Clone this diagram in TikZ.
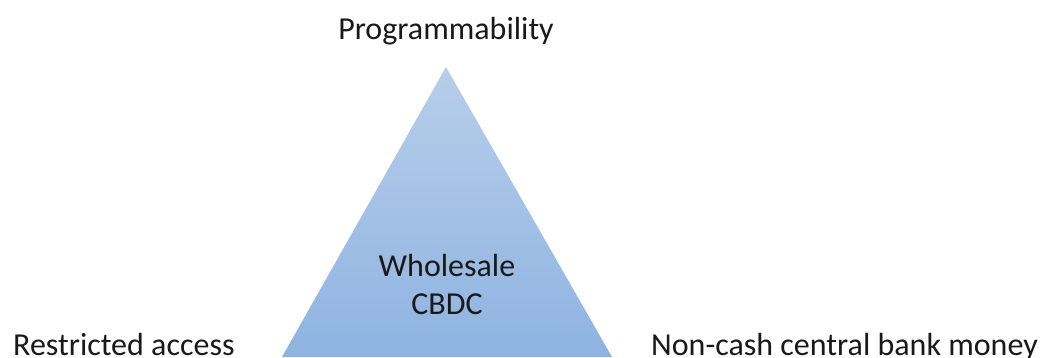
\documentclass[tikz,border=0pt]{standalone}
\usepackage{fontspec}
\setmainfont{Carlito}
\definecolor{tritop}{RGB}{184,206,234}
\definecolor{tribot}{RGB}{142,179,225}
\definecolor{labeltext}{RGB}{25,25,25}
\begin{document}
\begin{tikzpicture}[x=1pt,y=-1pt,
  lbl/.style={inner sep=0pt,text=labeltext,font=\fontsize{32}{38}\selectfont},
]
\useasboundingbox (0,0) rectangle (1041,358);
% vertices of the triangle
\coordinate (apex) at (446,67);
\coordinate (bl) at (282,357);
\coordinate (br) at (612,357);
\shade[top color=tritop,bottom color=tribot] (apex) -- (br) -- (bl) -- cycle;
% labels
\node[lbl,anchor=base] (prog) at (446,40) {Programmability};
\node[lbl,anchor=base west] (restr) at (13,355) {Restricted access};
\node[lbl,anchor=base west] (noncash) at (651,355) {Non-cash central bank money};
\node[lbl,align=center,anchor=base] (cbdc) at (447,314) {Wholesale\\CBDC};
\end{tikzpicture}
\end{document}
